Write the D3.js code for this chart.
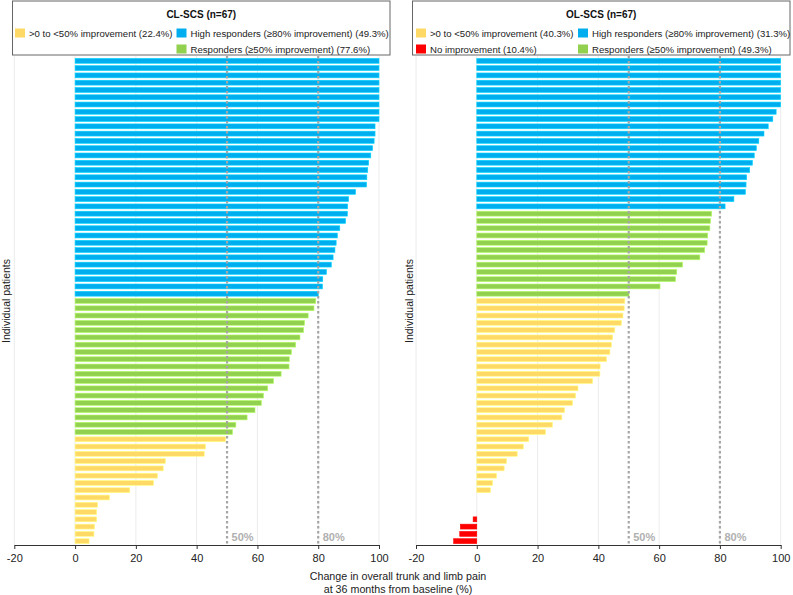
<!DOCTYPE html>
<html><head><meta charset="utf-8">
<script src="https://cdn.jsdelivr.net/npm/d3@7"></script>
<style>body{margin:0;background:#fff}svg{display:block;font-family:"Liberation Sans",Arial,sans-serif}</style>
</head><body><svg id="c" width="793" height="595"></svg>
<script>
// ---- data ----
const clValues = [100,100,100,100,100,100,100,100,100,98.7,98.7,98.4,97.9,97.3,96.6,96.3,96.0,95.9,92.3,90.0,89.7,89.6,89.0,87.1,86.3,85.9,85.5,84.9,84.3,82.7,81.5,81.4,80.0,
  79.2,78.6,76.7,75.5,75.2,74.0,72.6,71.2,70.5,70.4,67.8,65.3,63.4,62.0,61.3,59.2,56.6,52.9,51.8,
  49.5,42.9,42.5,29.7,29.0,27.1,25.8,18.0,11.3,7.4,7.1,7.1,6.4,6.2,4.6];
const olValues = [100,100,100,100,100,100,100,98.5,97.4,95.9,94.5,92.8,92.0,91.3,90.7,89.8,88.8,88.6,88.4,84.6,81.7,
  77.3,76.9,76.7,76.0,75.8,75.0,73.4,67.7,65.8,65.4,60.3,50.1,
  48.7,48.5,48.1,47.6,45.4,44.7,44.3,43.8,42.7,40.6,40.5,38.1,33.3,32.5,31.5,28.9,28.0,24.9,22.6,17.1,15.3,13.3,9.8,9.0,6.5,5.2,4.5,
  0,0,0,-1.2,-5.4,-5.6,-7.6];
const xTicks = [-20,0,20,40,60,80,100];
const xTickLabels = ["-20","0","20","40","60","80","100"];
const thresholds = [50,80];
const thresholdLabels = ["50%","80%"];
const clTitle = "CL-SCS (n=67)";
const olTitle = "OL-SCS (n=67)";
const clLegend = [
  {key:"yellow", label:">0 to <50% improvement (22.4%)", col:0,row:0},
  {key:"blue", label:"High responders (\u226580% improvement) (49.3%)", col:1,row:0},
  {key:"green", label:"Responders (\u226550% improvement) (77.6%)", col:1,row:1}];
const olLegend = [
  {key:"yellow", label:">0 to <50% improvement (40.3%)", col:0,row:0},
  {key:"red", label:"No improvement (10.4%)", col:0,row:1},
  {key:"blue", label:"High responders (\u226580% improvement) (31.3%)", col:1,row:0},
  {key:"green", label:"Responders (\u226550% improvement) (49.3%)", col:1,row:1}];
const yLabel = "Individual patients";
const xLabel = ["Change in overall trunk and limb pain","at 36 months from baseline (%)"];

const colors = {blue:"#00AEEF", green:"#92D050", yellow:"#FFD966", red:"#FF0000"};
function cat(v){ if(v>=80) return "blue"; if(v>=50) return "green"; if(v>0) return "yellow"; return "red"; }

const svg = d3.select("#c");

function panel(values, title, legend, opts){
  const g = svg.append("g");
  const x = d3.scaleLinear().domain([-20,100]).range([opts.x0, opts.x1]);
  const y = d3.scaleBand().domain(d3.range(values.length)).range([56,546]).paddingInner(0.33).paddingOuter(0.33);
  const axisY = 545;
  // gridlines
  g.append("g").selectAll("line").data(xTicks).join("line")
    .attr("x1",d=>x(d)).attr("x2",d=>x(d)).attr("y1",56).attr("y2",axisY)
    .attr("stroke","#ececec").attr("stroke-width",1);
  // bars
  g.append("g").selectAll("rect").data(values).join("rect")
    .attr("x",d=>x(Math.min(0,d))).attr("width",d=>Math.abs(x(d)-x(0)))
    .attr("y",(d,i)=>y(i)).attr("height",y.bandwidth())
    .attr("fill",d=>colors[cat(d)])
    .attr("stroke",d=>d3.color(colors[cat(d)]).brighter(0.6)).attr("stroke-width",0.6);
  // thresholds
  g.append("g").selectAll("line").data(thresholds).join("line")
    .attr("x1",d=>x(d)).attr("x2",d=>x(d)).attr("y1",56).attr("y2",axisY)
    .attr("stroke","#a6a6a6").attr("stroke-width",2.2).attr("stroke-dasharray","2.5,2.5");
  g.append("g").selectAll("text").data(thresholds).join("text")
    .attr("x",d=>x(d)+4.5).attr("y",541).text((d,i)=>thresholdLabels[i])
    .attr("font-size",11).attr("font-weight","bold").attr("fill","#b0b0b0");
  // axis
  const ax = g.append("g").attr("transform",`translate(0,${axisY})`)
    .call(d3.axisBottom(x).tickValues(xTicks).tickSize(4).tickSizeOuter(0).tickFormat((d,i)=>xTickLabels[i]));
  ax.select(".domain").attr("stroke","#333");
  ax.selectAll(".tick line").attr("stroke","#333");
  ax.selectAll("text").attr("font-size",11).attr("fill","#222").attr("font-family","Liberation Sans, Arial, sans-serif").attr("dy","0.95em");
  // y label
  g.append("text").attr("transform",`translate(${opts.yl},301) rotate(-90)`)
    .attr("text-anchor","middle").attr("font-size",10.5).attr("fill","#222").text(yLabel);
  // legend box
  const lb = g.append("g");
  lb.append("rect").attr("x",opts.bx).attr("y",1).attr("width",opts.bw).attr("height",54)
    .attr("fill","#fff").attr("stroke","#666").attr("stroke-width",1);
  lb.append("text").attr("x",opts.bx+opts.bw/2).attr("y",18).attr("text-anchor","middle")
    .attr("font-size",10).attr("font-weight","bold").attr("fill","#111").text(title);
  const items = lb.selectAll("g.item").data(legend).join("g")
    .attr("transform",d=>`translate(${d.col===0?opts.c0:opts.c1},${d.row===0?28.5:44.5})`);
  items.append("rect").attr("width",10).attr("height",9).attr("fill",d=>colors[d.key]);
  items.append("text").attr("x",14).attr("y",8.2).attr("font-size",9.6).attr("fill","#222").text(d=>d.label);
}

panel(clValues, clTitle, clLegend, {x0:14.3, x1:379, yl:10, bx:12.5, bw:377.5, c0:15, c1:176.5});
panel(olValues, olTitle, olLegend, {x0:416, x1:780.7, yl:413, bx:412.5, bw:377.5, c0:416, c1:578});

svg.append("text").attr("x",398).attr("y",580).attr("text-anchor","middle").attr("font-size",10.7).attr("fill","#222").text(xLabel[0]);
svg.append("text").attr("x",398).attr("y",593).attr("text-anchor","middle").attr("font-size",10.7).attr("fill","#222").text(xLabel[1]);
</script></body></html>
